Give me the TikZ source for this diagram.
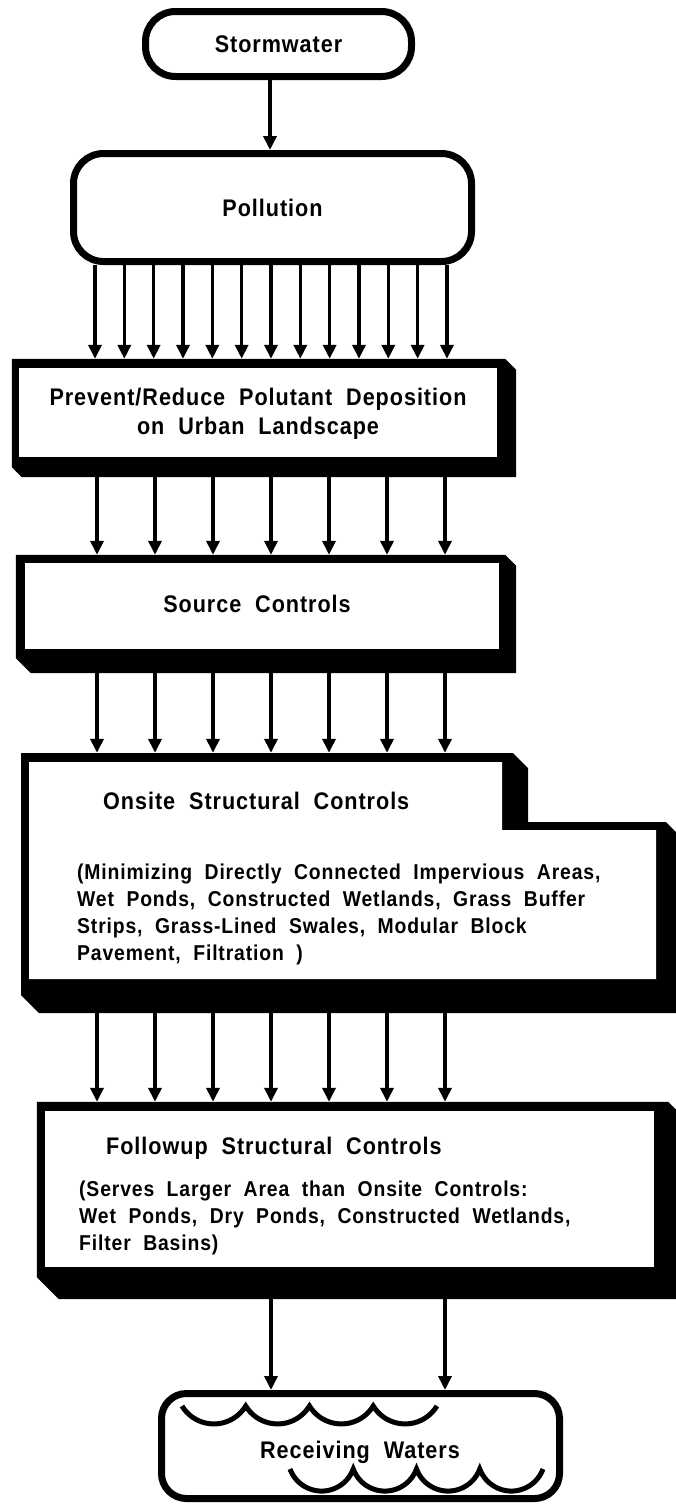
\documentclass[tikz,border=0pt]{standalone}
\usepackage{fontspec}
\setmainfont{Liberation Sans}[FakeStretch=0.9,LetterSpace=4,WordSpace=2]
\usetikzlibrary{arrows.meta}

\newcommand{\shadebox}[7]{%
  \fill (#1.north west) -- ([xshift=-#6pt]#1.north east) -- ([yshift=-#6pt]#1.north east)
    -- (#1.south east) -- ([xshift=#7pt]#1.south west) -- ([yshift=#7pt]#1.south west) -- cycle;
  \fill[white] ([xshift=#2pt,yshift=-#3pt]#1.north west) rectangle ([xshift=-#4pt,yshift=#5pt]#1.south east);
}

\tikzset{
  arr/.style={line width=3.5pt,-{Triangle[width=13pt,length=14pt]}},
  roundbox/.style={draw,line width=7pt,inner sep=0pt,font=\bxfont},
  outerbox/.style={rectangle,inner sep=0pt},
  bxtext/.style={inner sep=0pt,font=\bxfont},
  bdtext/.style={inner sep=0pt,font=\bdfont,anchor=west,align=left},
  wave/.style={line width=5pt}
}
\newcommand{\bxfont}{\fontsize{24}{29}\selectfont\bfseries}
\newcommand{\bdfont}{\fontsize{21.5}{27}\selectfont\bfseries}

\begin{document}
\begin{tikzpicture}[x=1pt,y=-1pt]
\useasboundingbox (0,0) rectangle (676,1505);

\node[roundbox,minimum width=266pt,minimum height=65pt,rounded corners=30pt] (storm) at (278.5,44) {Stormwater};
\node[roundbox,minimum width=398pt,minimum height=108pt,rounded corners=30pt] (pollution) at (272.5,207.5) {Pollution};

\node[outerbox,minimum width=504pt,minimum height=118pt] (prevent) at (264,418) {};
\shadebox{prevent}{7}{9}{19}{20}{11}{10}
\node[outerbox,minimum width=500pt,minimum height=118pt] (source) at (266,614) {};
\shadebox{source}{9}{8}{17}{24}{11}{15}
\node[outerbox,minimum width=655pt,minimum height=260pt] (onsite) at (348.5,883) {};
\fill (21,753) -- (513,753) -- (528,768) -- (528,822) -- (666,822) -- (676,832)
  -- (676,1013) -- (39,1013) -- (21,995) -- cycle;
\fill[white] (29,762) -- (502,762) -- (502,830) -- (656,830) -- (656,979) -- (29,979) -- cycle;
\node[outerbox,minimum width=639pt,minimum height=197pt] (followup) at (356.5,1200.5) {};
\shadebox{followup}{8}{9}{22}{32}{8}{22}

\node[roundbox,minimum width=398pt,minimum height=105pt,rounded corners=25pt] (receiving) at (360.5,1446) {};
\draw[wave] (182,1406) \foreach \i in {1,...,4} { arc[start angle=148.7,end angle=31.3,radius=37.3] };
\draw[wave] (290,1469) \foreach \i in {1,...,4} { arc[start angle=159.8,end angle=20.2,radius=33.7] };

\node[bxtext,align=center] (preventtxt) at (258,414) {Prevent/Reduce Polutant Deposition\\on Urban Landscape};
\node[bxtext] (sourcetxt) at (257,604) {Source Controls};
\node[bxtext,anchor=west] (onsitetitle) at (103,801) {Onsite Structural Controls};
\node[bdtext] (onsitetxt) at (77,914) {(Minimizing Directly Connected Impervious Areas,\\Wet Ponds, Constructed Wetlands, Grass Buffer\\Strips, Grass-Lined Swales, Modular Block\\Pavement, Filtration )};
\node[bxtext,anchor=west] (followtitle) at (106,1148) {Followup Structural Controls};
\node[bdtext] (followtxt) at (79,1218) {(Serves Larger Area than Onsite Controls:\\Wet Ponds, Dry Ponds, Constructed Wetlands,\\Filter Basins)};
\node[bxtext] (receivingtxt) at (360,1452) {Receiving Waters};

\draw[arr] (270,0 |- storm.south) -- (270,0 |- pollution.north);
\foreach \i in {0,...,12}
  \draw[arr] (95+29.33*\i,0 |- pollution.south) -- (95+29.33*\i,0 |- prevent.north);
\foreach \x in {97,155,213,271,329,387,445} {
  \draw[arr] (\x,0 |- prevent.south) -- (\x,0 |- source.north);
  \draw[arr] (\x,0 |- source.south) -- (\x,0 |- onsite.north);
  \draw[arr] (\x,0 |- onsite.south) -- (\x,0 |- followup.north);
}
\foreach \x in {271,445}
  \draw[arr] (\x,0 |- followup.south) -- (\x,0 |- receiving.north);

\end{tikzpicture}
\end{document}
